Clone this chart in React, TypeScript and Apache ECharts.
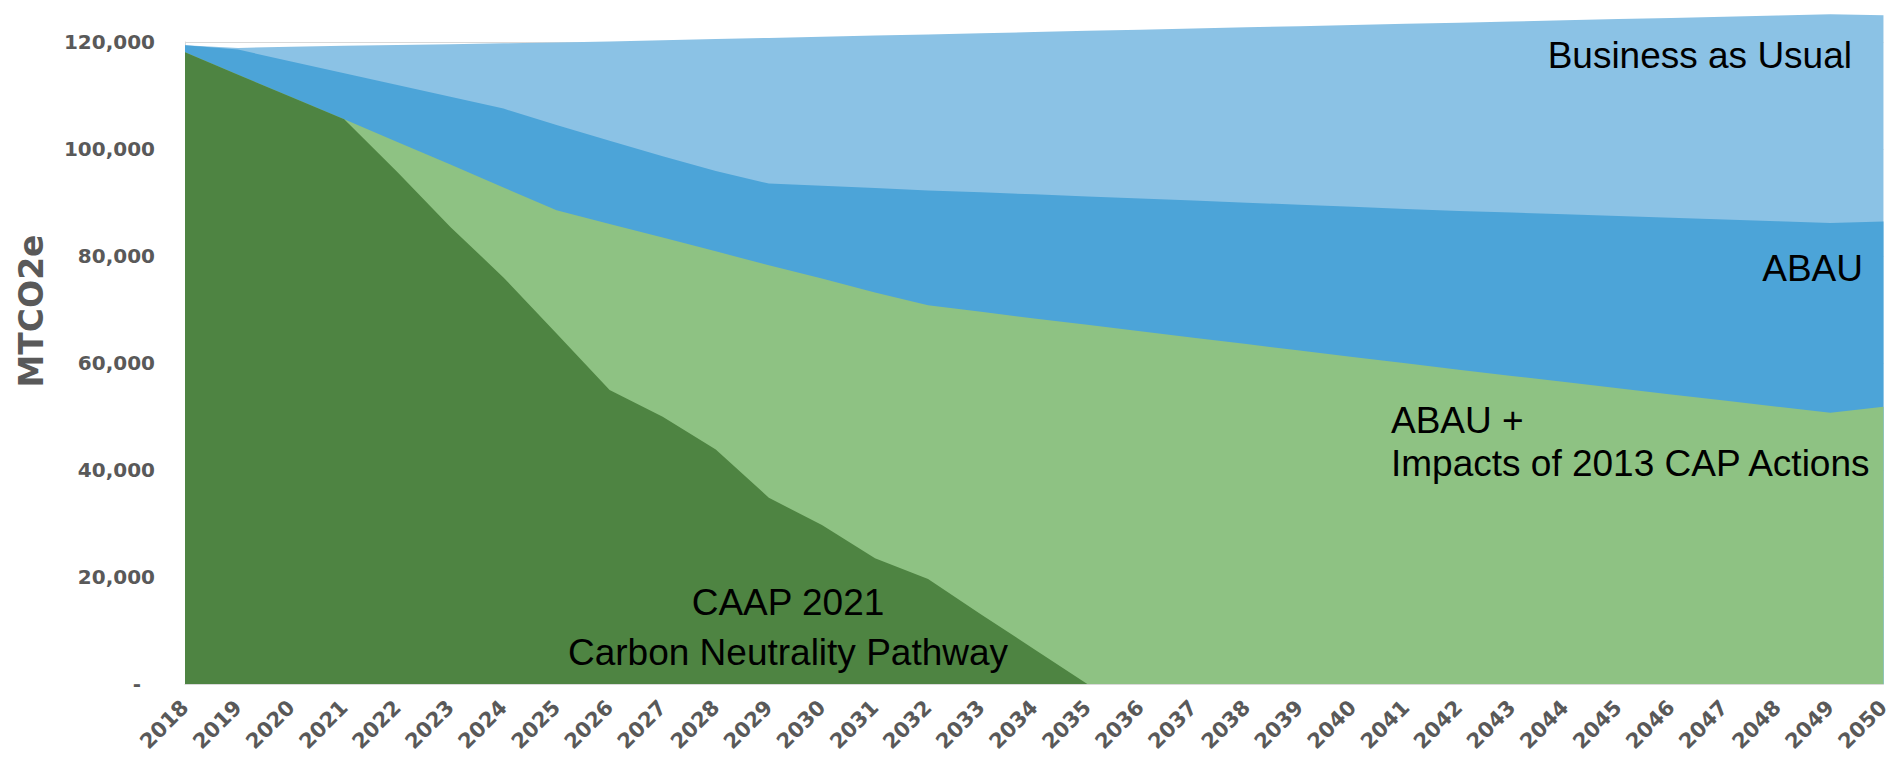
import React, { useEffect, useRef } from "react";
import * as echarts from "echarts";

// Emission pathways 2018–2050, MTCO2e
const years = [
  "2018", "2019", "2020", "2021", "2022", "2023", "2024", "2025", "2026", "2027", "2028",
  "2029", "2030", "2031", "2032", "2033", "2034", "2035", "2036", "2037", "2038", "2039",
  "2040", "2041", "2042", "2043", "2044", "2045", "2046", "2047", "2048", "2049", "2050",
];

const businessAsUsual = [
  119400, 118900, 119100, 119300, 119450, 119600, 119750, 119900, 120100, 120320, 120540,
  120760, 120980, 121200, 121420, 121640, 121860, 122080, 122300, 122520, 122740, 122960,
  123180, 123400, 123620, 123840, 124060, 124280, 124500, 124720, 124940, 125170, 124980,
];

const abau = [
  119380, 118580, 116370, 114170, 111970, 109760, 107550, 104480, 101520, 98640, 95900,
  93540, 93120, 92690, 92260, 91900, 91530, 91140, 90750, 90360, 89970, 89580,
  89190, 88800, 88430, 88110, 87790, 87470, 87150, 86830, 86510, 86180, 86440,
];

const abauPlusCap2013 = [
  118100, 113900, 109700, 105550, 101320, 97080, 92790, 88560, 86000, 83450, 80870,
  78280, 75800, 73180, 70810, 69560, 68330, 67130, 65930, 64730, 63530, 62330,
  61130, 59930, 58730, 57580, 56430, 55280, 54130, 52980, 51830, 50690, 51810,
];

const caap2021 = [
  118100, 113900, 109700, 105550, 95700, 85440, 76000, 65500, 54930, 49940, 43840,
  34810, 29710, 23500, 19620, 13000, 6500, 0, 0, 0, 0, 0,
  0, 0, 0, 0, 0, 0, 0, 0, 0, 0, 0,
];

const yTicks = { min: 0, max: 120000, step: 20000 };

const AXIS_FONT = '"DejaVu Sans", sans-serif';
const NOTE_FONT = '"Liberation Sans", Arial, sans-serif';
const AXIS_GREY = "#595959";
const RULE_GREY = "#d9d9d9";

function areaSeries(name: string, data: number[], color: string, z: number) {
  return {
    type: "line",
    name,
    data,
    symbol: "none",
    showSymbol: false,
    lineStyle: { width: 0 },
    areaStyle: { color, opacity: 1 },
    clip: false,
    silent: true,
    z,
  };
}

function note(text: string, x: number, y: number, align: string, lineHeight = 44) {
  return {
    type: "text",
    x,
    y,
    z: 100,
    silent: true,
    style: {
      text,
      fill: "#000000",
      fontFamily: NOTE_FONT,
      fontSize: 37,
      align,
      verticalAlign: "middle",
      lineHeight,
    },
  };
}

export default function App() {
  const ref = useRef<HTMLDivElement>(null);

  useEffect(() => {
    document.body.style.margin = "0";
    if (!ref.current) return;
    const chart = echarts.init(ref.current, undefined, { renderer: "svg" });

    chart.setOption({
      animation: false,
      grid: { left: 185, right: 6, top: 42, bottom: 74 },
      xAxis: {
        type: "category",
        data: years,
        boundaryGap: false,
        axisTick: { show: false },
        axisLine: { show: true, lineStyle: { color: RULE_GREY, width: 1 } },
        splitLine: { show: false },
        axisLabel: {
          interval: 0,
          rotate: 45,
          margin: 20,
          color: AXIS_GREY,
          fontFamily: AXIS_FONT,
          fontWeight: "bold",
          fontSize: 21,
        },
      },
      yAxis: {
        type: "value",
        min: yTicks.min,
        max: yTicks.max,
        interval: yTicks.step,
        axisTick: { show: false },
        axisLine: { show: true, lineStyle: { color: RULE_GREY, width: 1 } },
        splitLine: { show: true, lineStyle: { color: RULE_GREY, width: 1 } },
        axisLabel: {
          margin: 30,
          color: AXIS_GREY,
          fontFamily: AXIS_FONT,
          fontWeight: "bold",
          fontSize: 20,
          formatter: (v: number) =>
            v === 0 ? "{d|-}" : v.toLocaleString("en-US"),
          rich: {
            d: {
              color: AXIS_GREY,
              fontFamily: AXIS_FONT,
              fontWeight: "bold",
              fontSize: 20,
              padding: [0, 14, 0, 0],
            },
          },
        },
      },
      series: [
        areaSeries("Business as Usual", businessAsUsual, "#8BC2E5", 2),
        areaSeries("ABAU", abau, "#4CA4D8", 3),
        areaSeries("ABAU + Impacts of 2013 CAP Actions", abauPlusCap2013, "#8EC283", 4),
        areaSeries("CAAP 2021 Carbon Neutrality Pathway", caap2021, "#4E8442", 5),
      ],
      graphic: [
        {
          type: "text",
          x: 31,
          y: 311,
          rotation: Math.PI / 2,
          silent: true,
          style: {
            text: "MTCO2e",
            fill: AXIS_GREY,
            fontFamily: AXIS_FONT,
            fontWeight: "bold",
            fontSize: 33,
            align: "center",
            verticalAlign: "middle",
          },
        },
        note("Business as Usual", 1852, 55, "right"),
        note("ABAU", 1863, 268, "right"),
        note("ABAU +\nImpacts of 2013 CAP Actions", 1391, 442, "left", 43),
        note("CAAP 2021\nCarbon Neutrality Pathway", 788, 627, "center", 50),
      ],
    });

    return () => chart.dispose();
  }, []);

  return <div ref={ref} style={{ width: 1893, height: 758 }} />;
}
